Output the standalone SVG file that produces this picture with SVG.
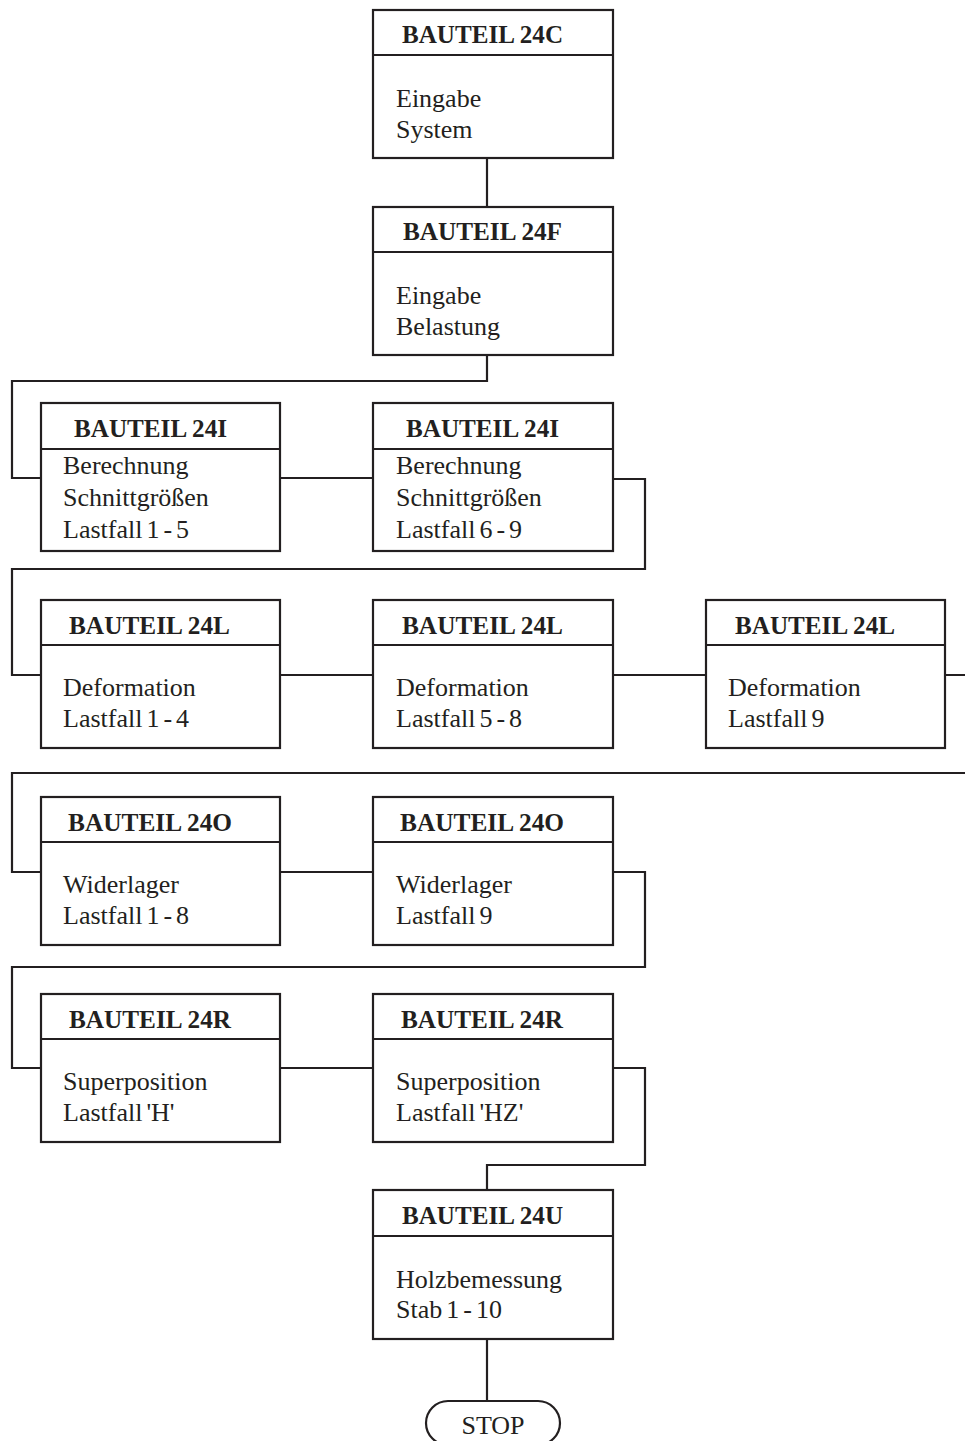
<svg xmlns="http://www.w3.org/2000/svg" width="965" height="1441" viewBox="0 0 965 1441">
<style>
.box{fill:#fff;stroke:#231f20;stroke-width:2.2}
.div{stroke:#231f20;stroke-width:2.2}
.con{fill:none;stroke:#231f20;stroke-width:2.2}
.h{font-family:"Liberation Serif","Times New Roman",serif;font-weight:bold;font-size:25px;fill:#231f20}
.t{font-family:"Liberation Serif","Times New Roman",serif;font-size:26px;fill:#231f20;word-spacing:-2.5px}
</style>
<rect width="965" height="1441" fill="#fff"/>
<g id="connectors">
<path class="con" d="M487,158 V207"/>
<path class="con" d="M487,355 V381 H12 V478 H41"/>
<path class="con" d="M280,478 H373"/>
<path class="con" d="M613,479 H645 V569 H12 V675 H41"/>
<path class="con" d="M280,675 H373"/>
<path class="con" d="M613,675 H706"/>
<path class="con" d="M945,675 H975 V773 H12 V872 H41"/>
<path class="con" d="M280,872 H373"/>
<path class="con" d="M613,872 H645 V967 H12 V1068 H41"/>
<path class="con" d="M280,1068 H373"/>
<path class="con" d="M613,1068 H645 V1165 H487 V1190"/>
<path class="con" d="M487,1339 V1401"/>
</g>
<g id="n24C">
<rect class="box" x="373" y="10" width="240" height="148"/>
<line class="div" x1="373" y1="55" x2="613" y2="55"/>
<text class="h" x="402" y="43" textLength="161" lengthAdjust="spacingAndGlyphs">BAUTEIL 24C</text>
<text class="t" x="396" y="107">Eingabe</text>
<text class="t" x="396" y="138">System</text>
</g>
<g id="n24F">
<rect class="box" x="373" y="207" width="240" height="148"/>
<line class="div" x1="373" y1="252" x2="613" y2="252"/>
<text class="h" x="403" y="240" textLength="159" lengthAdjust="spacingAndGlyphs">BAUTEIL 24F</text>
<text class="t" x="396" y="304">Eingabe</text>
<text class="t" x="396" y="335">Belastung</text>
</g>
<g id="n24I-1">
<rect class="box" x="41" y="403" width="239" height="148"/>
<line class="div" x1="41" y1="449" x2="280" y2="449"/>
<text class="h" x="74" y="437" textLength="153" lengthAdjust="spacingAndGlyphs">BAUTEIL 24I</text>
<text class="t" x="63" y="474">Berechnung</text>
<text class="t" x="63" y="506">Schnittgrößen</text>
<text class="t" x="63" y="538">Lastfall 1 - 5</text>
</g>
<g id="n24I-2">
<rect class="box" x="373" y="403" width="240" height="148"/>
<line class="div" x1="373" y1="449" x2="613" y2="449"/>
<text class="h" x="406" y="437" textLength="153" lengthAdjust="spacingAndGlyphs">BAUTEIL 24I</text>
<text class="t" x="396" y="474">Berechnung</text>
<text class="t" x="396" y="506">Schnittgrößen</text>
<text class="t" x="396" y="538">Lastfall 6 - 9</text>
</g>
<g id="n24L-1">
<rect class="box" x="41" y="600" width="239" height="148"/>
<line class="div" x1="41" y1="645" x2="280" y2="645"/>
<text class="h" x="69" y="634" textLength="161" lengthAdjust="spacingAndGlyphs">BAUTEIL 24L</text>
<text class="t" x="63" y="696">Deformation</text>
<text class="t" x="63" y="727">Lastfall 1 - 4</text>
</g>
<g id="n24L-2">
<rect class="box" x="373" y="600" width="240" height="148"/>
<line class="div" x1="373" y1="645" x2="613" y2="645"/>
<text class="h" x="402" y="634" textLength="161" lengthAdjust="spacingAndGlyphs">BAUTEIL 24L</text>
<text class="t" x="396" y="696">Deformation</text>
<text class="t" x="396" y="727">Lastfall 5 - 8</text>
</g>
<g id="n24L-3">
<rect class="box" x="706" y="600" width="239" height="148"/>
<line class="div" x1="706" y1="645" x2="945" y2="645"/>
<text class="h" x="735" y="634" textLength="160" lengthAdjust="spacingAndGlyphs">BAUTEIL 24L</text>
<text class="t" x="728" y="696">Deformation</text>
<text class="t" x="728" y="727">Lastfall 9</text>
</g>
<g id="n24O-1">
<rect class="box" x="41" y="797" width="239" height="148"/>
<line class="div" x1="41" y1="842" x2="280" y2="842"/>
<text class="h" x="68" y="831" textLength="164" lengthAdjust="spacingAndGlyphs">BAUTEIL 24O</text>
<text class="t" x="63" y="893">Widerlager</text>
<text class="t" x="63" y="924">Lastfall 1 - 8</text>
</g>
<g id="n24O-2">
<rect class="box" x="373" y="797" width="240" height="148"/>
<line class="div" x1="373" y1="842" x2="613" y2="842"/>
<text class="h" x="400" y="831" textLength="164" lengthAdjust="spacingAndGlyphs">BAUTEIL 24O</text>
<text class="t" x="396" y="893">Widerlager</text>
<text class="t" x="396" y="924">Lastfall 9</text>
</g>
<g id="n24R-1">
<rect class="box" x="41" y="994" width="239" height="148"/>
<line class="div" x1="41" y1="1039" x2="280" y2="1039"/>
<text class="h" x="69" y="1028" textLength="162" lengthAdjust="spacingAndGlyphs">BAUTEIL 24R</text>
<text class="t" x="63" y="1090">Superposition</text>
<text class="t" x="63" y="1121">Lastfall 'H'</text>
</g>
<g id="n24R-2">
<rect class="box" x="373" y="994" width="240" height="148"/>
<line class="div" x1="373" y1="1039" x2="613" y2="1039"/>
<text class="h" x="401" y="1028" textLength="162" lengthAdjust="spacingAndGlyphs">BAUTEIL 24R</text>
<text class="t" x="396" y="1090">Superposition</text>
<text class="t" x="396" y="1121">Lastfall 'HZ'</text>
</g>
<g id="n24U">
<rect class="box" x="373" y="1190" width="240" height="149"/>
<line class="div" x1="373" y1="1236" x2="613" y2="1236"/>
<text class="h" x="402" y="1224" textLength="161" lengthAdjust="spacingAndGlyphs">BAUTEIL 24U</text>
<text class="t" x="396" y="1288">Holzbemessung</text>
<text class="t" x="396" y="1318">Stab 1 - 10</text>
</g>
<g id="stop">
<rect class="box" x="426" y="1401" width="134" height="44" rx="22" ry="22"/>
<text class="t" x="493" y="1434" text-anchor="middle">STOP</text>
</g>
</svg>
